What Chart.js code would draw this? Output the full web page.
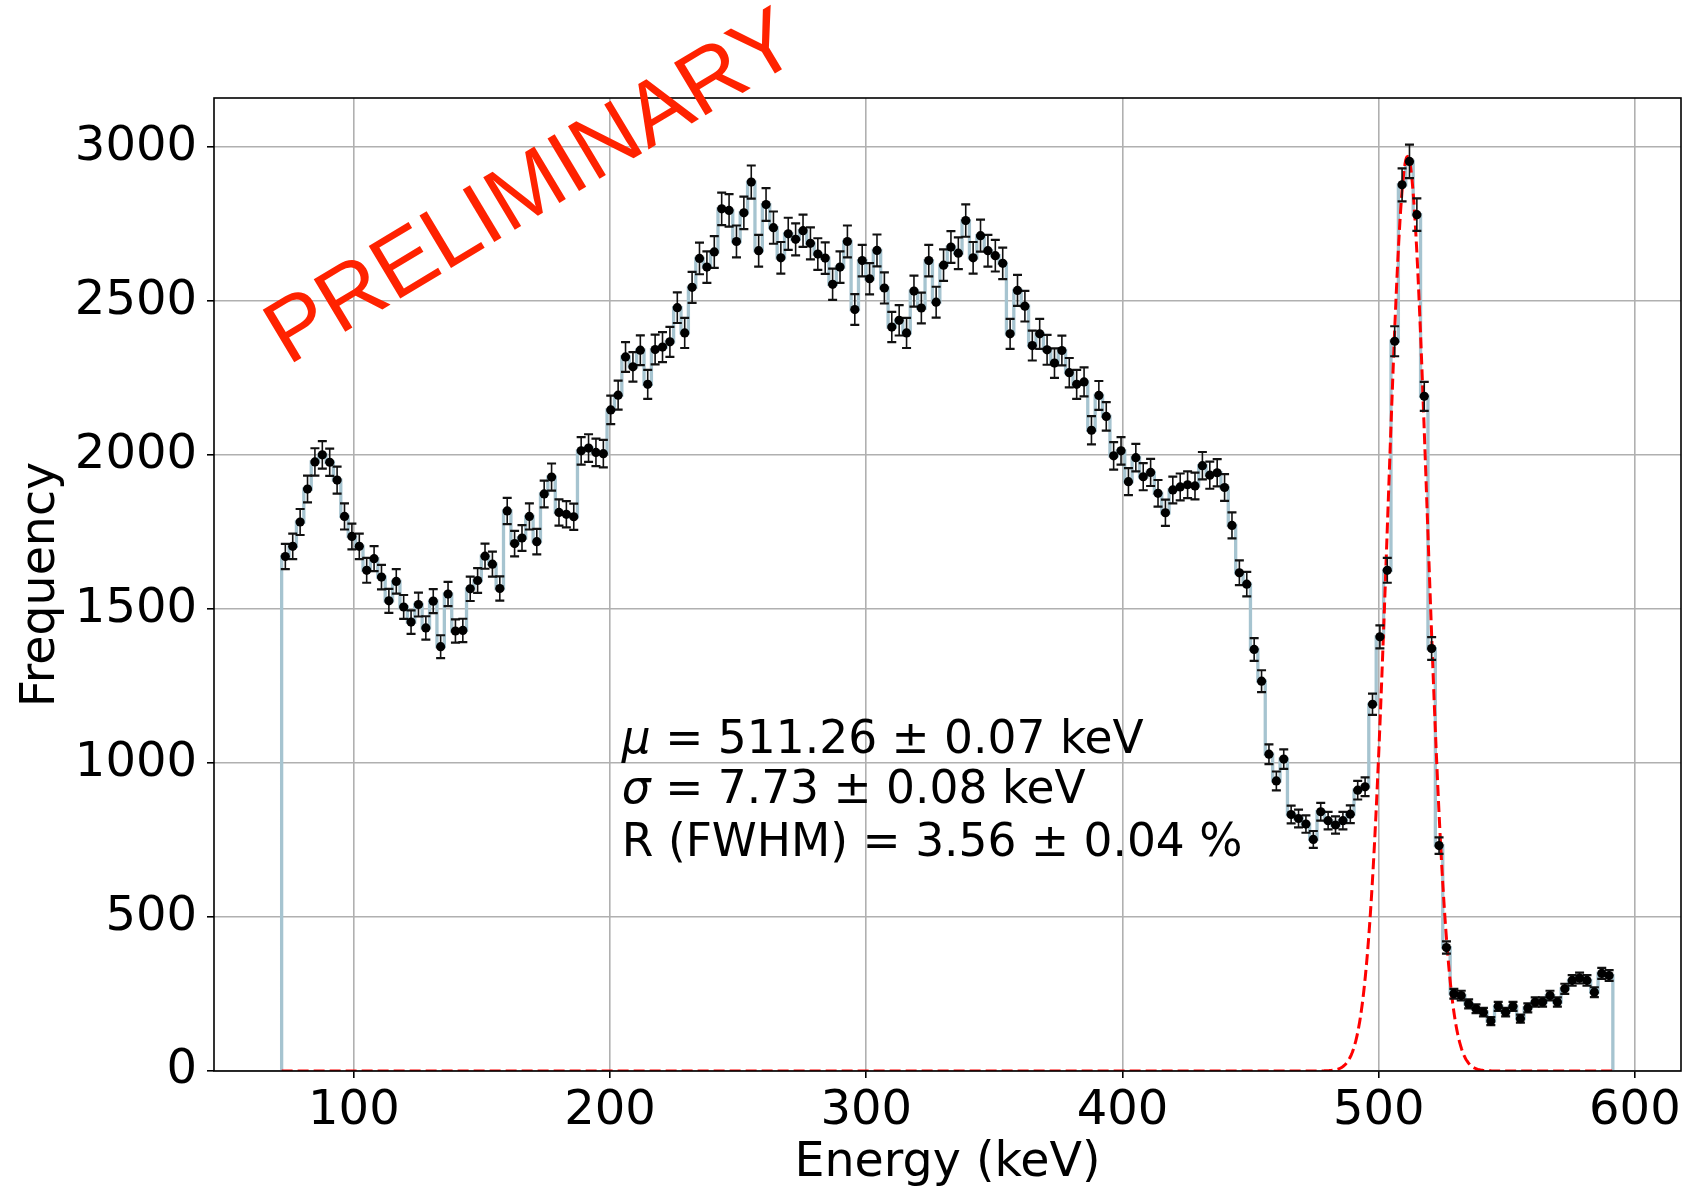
<!DOCTYPE html>
<html>
<head>
<meta charset="utf-8">
<script src="https://cdn.jsdelivr.net/npm/chart.js@4.4.0/dist/chart.umd.min.js"></script>
<style>
  body { margin: 0; background: #fff; }
  #wrap { width: 1687px; height: 1190px; }
</style>
</head>
<body>
<div id="wrap"><canvas id="spectrum" width="1687" height="1190"></canvas></div>
<script>
// histogram range (keV) and counts per bin
const BIN_LO = 71.8;
const BIN_HI = 591.4;
const counts = [
  1671, 1704, 1783, 1890, 1978, 2001, 1977, 1919, 1801, 1736,
  1704, 1626, 1664, 1604, 1527, 1590, 1507, 1458, 1515, 1439,
  1526, 1378, 1549, 1429, 1431, 1566, 1593, 1672, 1646, 1567,
  1819, 1713, 1731, 1801, 1719, 1874, 1929, 1814, 1808, 1800,
  2014, 2023, 2009, 2005,
  2147, 2195, 2319, 2287, 2341, 2230, 2343, 2351, 2368, 2479,
  2397, 2545, 2639, 2611, 2660, 2800, 2795, 2694, 2787, 2887,
  2664, 2814, 2739, 2641, 2719, 2701, 2729, 2688, 2653, 2640,
  2555, 2611, 2694, 2473, 2632, 2573, 2665, 2543, 2416, 2438,
  2397, 2533, 2478, 2632,
  2497, 2617, 2676, 2656, 2762, 2641, 2713, 2664, 2648, 2623,
  2394, 2535, 2484, 2356, 2394, 2342, 2299, 2340, 2268, 2230,
  2238, 2081, 2194, 2126, 1998, 2014, 1914, 1992, 1930, 1944,
  1876, 1813, 1887, 1897, 1904, 1900, 1966, 1935, 1943, 1895,
  1772, 1618, 1581, 1369, 1266, 1029, 942, 1013, 833, 820,
  802, 752, 842, 813, 799, 813, 834, 912, 923, 1191,
  1410, 1626, 2370, 2878, 2954, 2781, 2191, 1372, 732,
  401, 251, 245, 218, 202, 191, 162, 210, 191, 210,
  170, 205, 224, 224, 245, 224, 267, 294, 302, 294,
  256, 317, 310
];

// axes
const X_MIN = 45.4, X_MAX = 618;
const Y_MIN = 0, Y_MAX = 3160;
const X_TICKS = [100, 200, 300, 400, 500, 600];
const Y_TICKS = [0, 500, 1000, 1500, 2000, 2500, 3000];
const X_TITLE = 'Energy (keV)';
const Y_TITLE = 'Frequency';

// gaussian fit of the 511 keV peak
const FIT_MU = 511.26;
const FIT_SIGMA = 7.73;
const FIT_AMP = 2970;

// fit result text: [italic symbol, rest of line]
const fitLines = [
  ['μ', ' = 511.26 ± 0.07 keV'],
  ['σ', ' = 7.73 ± 0.08 keV'],
  ['', 'R (FWHM) = 3.56 ± 0.04 %']
];
const fitTextX = 204.6;
const fitTextY = [1033, 871, 699];

const binWidth = (BIN_HI - BIN_LO) / counts.length;
const centers = counts.map((c, i) => BIN_LO + (i + 0.5) * binWidth);

// step outline of the histogram
const stepPts = [{ x: BIN_LO, y: 0 }];
counts.forEach((c, i) => {
  stepPts.push({ x: BIN_LO + i * binWidth, y: c });
  stepPts.push({ x: BIN_LO + (i + 1) * binWidth, y: c });
});
stepPts.push({ x: BIN_HI, y: 0 });

const dataPts = counts.map((c, i) => ({ x: centers[i], y: c }));

const fitPts = [];
for (let e = BIN_LO; e <= BIN_HI; e += 0.25) {
  fitPts.push({ x: e, y: FIT_AMP * Math.exp(-0.5 * Math.pow((e - FIT_MU) / FIT_SIGMA, 2)) });
}

// sqrt(N) error bars, drawn just under the markers
const errorBars = {
  id: 'errorBars',
  beforeDatasetDraw(chart, args) {
    if (args.index !== 0) return;
    const { ctx, scales: { x, y } } = chart;
    ctx.save();
    ctx.strokeStyle = '#111';
    counts.forEach((c, i) => {
      const err = Math.sqrt(c);
      const px = x.getPixelForValue(centers[i]);
      const top = y.getPixelForValue(c + err);
      const bot = y.getPixelForValue(c - err);
      ctx.lineWidth = 1.6;
      ctx.beginPath();
      ctx.moveTo(px, top);
      ctx.lineTo(px, bot);
      ctx.stroke();
      ctx.lineWidth = 2.2;
      ctx.beginPath();
      ctx.moveTo(px - 4.5, top); ctx.lineTo(px + 4.5, top);
      ctx.moveTo(px - 4.5, bot); ctx.lineTo(px + 4.5, bot);
      ctx.stroke();
    });
    ctx.restore();
  }
};

// frame, axis titles, fit result text and the PRELIMINARY stamp
const overlay = {
  id: 'overlay',
  afterDraw(chart) {
    const { ctx, chartArea: a, scales: { x, y } } = chart;
    ctx.save();
    ctx.strokeStyle = '#000';
    ctx.lineWidth = 1.6;
    ctx.strokeRect(a.left, a.top, a.right - a.left, a.bottom - a.top);

    ctx.fillStyle = '#000';
    ctx.font = '47.5px "DejaVu Sans"';
    ctx.textBaseline = 'alphabetic';
    ctx.textAlign = 'center';
    ctx.fillText(X_TITLE, (a.left + a.right) / 2, 1176);
    ctx.save();
    ctx.translate(54, (a.top + a.bottom) / 2);
    ctx.rotate(-Math.PI / 2);
    ctx.fillText(Y_TITLE, 0, 0);
    ctx.restore();

    ctx.textAlign = 'left';
    fitLines.forEach((ln, i) => {
      const px = x.getPixelForValue(fitTextX);
      const py = y.getPixelForValue(fitTextY[i]);
      ctx.font = 'italic 45.5px "DejaVu Sans"';
      ctx.fillText(ln[0], px, py);
      const w = ln[0] ? ctx.measureText(ln[0]).width : 0;
      ctx.font = '45.5px "DejaVu Sans"';
      ctx.fillText(ln[1], px + w, py);
    });

    ctx.save();
    ctx.translate(288, 366);
    ctx.rotate(-31 * Math.PI / 180);
    ctx.fillStyle = '#ff2200';
    ctx.font = '89px "Liberation Sans"';
    ctx.fillText('PRELIMINARY', 0, 0);
    ctx.restore();
    ctx.restore();
  }
};

const ctx = document.getElementById('spectrum').getContext('2d');
new Chart(ctx, {
  type: 'scatter',
  data: {
    datasets: [
      {
        type: 'scatter',
        data: dataPts,
        pointRadius: 4.6,
        pointBackgroundColor: '#000',
        pointBorderWidth: 0,
        order: 0
      },
      {
        type: 'line',
        data: fitPts,
        borderColor: '#ff0000',
        borderWidth: 3,
        borderDash: [11, 5],
        pointRadius: 0,
        tension: 0,
        order: 1
      },
      {
        type: 'line',
        data: stepPts,
        borderColor: '#a6c4d0',
        borderWidth: 3.3,
        pointRadius: 0,
        tension: 0,
        order: 2
      }
    ]
  },
  options: {
    responsive: false,
    animation: false,
    layout: { padding: { left: 0, top: 98, right: 6, bottom: 0 } },
    plugins: { legend: { display: false }, tooltip: { enabled: false } },
    scales: {
      x: {
        type: 'linear',
        min: X_MIN,
        max: X_MAX,
        afterBuildTicks: s => { s.ticks = X_TICKS.map(v => ({ value: v })); },
        afterFit: s => { s.height = 119; },
        grid: { color: '#b0b0b0', lineWidth: 1.6, tickColor: '#000', tickWidth: 1.6, tickLength: 7 },
        border: { display: false },
        ticks: { color: '#000', font: { family: 'DejaVu Sans', size: 48 }, padding: 5, maxRotation: 0, callback: v => String(v) }
      },
      y: {
        type: 'linear',
        min: Y_MIN,
        max: Y_MAX,
        afterBuildTicks: s => { s.ticks = Y_TICKS.map(v => ({ value: v })); },
        afterFit: s => { s.width = 214; },
        grid: { color: '#b0b0b0', lineWidth: 1.6, tickColor: '#000', tickWidth: 1.6, tickLength: 7 },
        border: { display: false },
        ticks: { color: '#000', font: { family: 'DejaVu Sans', size: 48 }, padding: 10, callback: v => String(v) }
      }
    }
  },
  plugins: [errorBars, overlay]
});
</script>
</body>
</html>
